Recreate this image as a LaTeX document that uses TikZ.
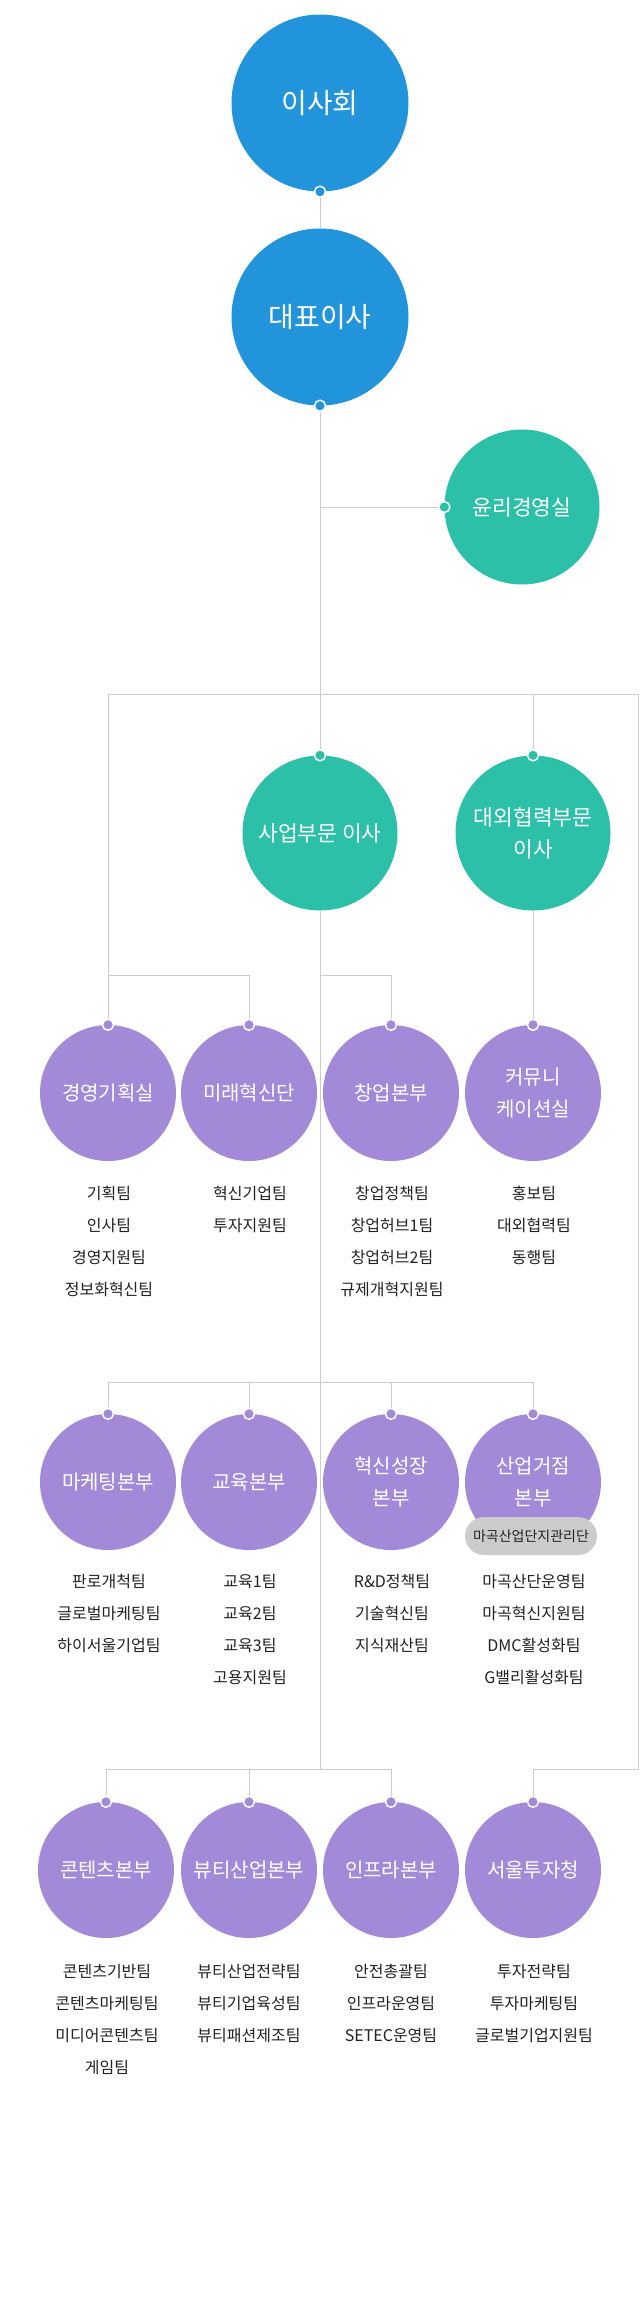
\documentclass[tikz,border=0pt]{standalone}
\usepackage{fontspec}
\setmainfont{Noto Sans CJK KR}
\definecolor{ceoblue}{HTML}{2194DB}
\definecolor{tealc}{HTML}{2DC0A8}
\definecolor{purplec}{HTML}{A38AD8}
\definecolor{linegray}{HTML}{CCCCCC}
\definecolor{teamtext}{HTML}{222222}
\definecolor{badgegray}{HTML}{CCCCCC}
\newcommand\teamcol[4]{%
  \foreach \t [count=\i from 0] in {#4} \node[team] (#1-\i) at (#2, #3+\i*32) {\t};}
\begin{document}
\begin{tikzpicture}[x=1pt,y=-1pt,
  lines/.style={draw=linegray, line width=1pt},
  bignode/.style={circle, inner sep=0pt, minimum size=177pt, fill=ceoblue, text=white, font=\fontsize{28}{34}\selectfont},
  midnode/.style={circle, inner sep=0pt, minimum size=155pt, fill=tealc, text=white, align=center, font=\fontsize{21.5}{32}\selectfont},
  subnode/.style={circle, inner sep=0pt, minimum size=136pt, fill=purplec, text=white, align=center, font=\fontsize{20}{32}\selectfont},
  team/.style={inner sep=0pt, text=teamtext, font=\fontsize{16}{20}\selectfont},
  badge/.style={rectangle, rounded corners=19pt, inner sep=0pt, minimum width=132pt, minimum height=38pt, fill=badgegray, text=teamtext, font=\fontsize{14}{16}\selectfont},
  dotb/.style={circle, inner sep=0pt, minimum size=11pt, draw=white, line width=1.5pt},
]
\useasboundingbox[fill=white] (0,0) rectangle (640,2300);

% main nodes
\node[bignode] (board) at (320,103) {이사회};
\node[bignode] (ceo) at (320,317) {대표이사};
\node[midnode] (ethics) at (522,507) {윤리경영실};
\node[midnode] (biz) at (320,833) {사업부문 이사};
\node[midnode] (ext) at (533,833) {대외협력부문\\이사};

\node[subnode] (r1a) at (108,1093) {경영기획실};
\node[subnode] (r1b) at (249,1093) {미래혁신단};
\node[subnode] (r1c) at (391,1093) {창업본부};
\node[subnode] (r1d) at (533,1093) {커뮤니\\케이션실};

\node[subnode] (r2a) at (108,1482) {마케팅본부};
\node[subnode] (r2b) at (249,1482) {교육본부};
\node[subnode] (r2c) at (391,1482) {혁신성장\\본부};
\node[subnode] (r2d) at (533,1482) {산업거점\\본부};
\node[badge] (mg) at (531,1536) {마곡산업단지관리단};

\node[subnode] (r3a) at (106,1870) {콘텐츠본부};
\node[subnode] (r3b) at (249,1870) {뷰티산업본부};
\node[subnode] (r3c) at (391,1870) {인프라본부};
\node[subnode] (r3d) at (533,1870) {서울투자청};

% junctions
\coordinate (j0) at (320,507);
\coordinate (j1) at (320,694);
\coordinate (jl) at (108,694);
\coordinate (jr) at (638.5,694);
\coordinate (je) at (533,694);
\coordinate (k1) at (108,975);
\coordinate (k2) at (249,975);
\coordinate (k3) at (320,975);
\coordinate (k4) at (391,975);
\coordinate (m1) at (108,1382);
\coordinate (m4) at (533,1382);
\coordinate (n1) at (106,1769);
\coordinate (n3) at (391,1769);
\coordinate (n0) at (320,1769);
\coordinate (nr) at (638.5,1769);
\coordinate (n4) at (533,1769);

% connectors
\draw[lines] (board.south) -- (ceo.north);
\draw[lines] (ceo.south) -- (j1);
\draw[lines] (j0) -- (ethics.west);
\draw[lines] (jl) -- (jr) -- (nr) -- (n4) -- (r3d.north);
\draw[lines] (j1) -- (biz.north);
\draw[lines] (je) -- (ext.north);
\draw[lines] (jl) -- (r1a.north);
\draw[lines] (k1) -- (k2) -- (r1b.north);
\draw[lines] (biz.south) -- (n0);
\draw[lines] (k3) -- (k4) -- (r1c.north);
\draw[lines] (ext.south) -- (r1d.north);
\draw[lines] (m1) -- (m4);
\foreach \n in {r2a,r2b,r2c,r2d} \draw[lines] (\n.north |- m1) -- (\n.north);
\draw[lines] (n1) -- (n3);
\foreach \n in {r3a,r3b,r3c} \draw[lines] (\n.north |- n1) -- (\n.north);

% dots
\foreach \n/\a/\c in {board/south/ceoblue, ceo/south/ceoblue, ethics/west/tealc, biz/north/tealc, ext/north/tealc,
  r1a/north/purplec, r1b/north/purplec, r1c/north/purplec, r1d/north/purplec,
  r2a/north/purplec, r2b/north/purplec, r2c/north/purplec, r2d/north/purplec,
  r3a/north/purplec, r3b/north/purplec, r3c/north/purplec, r3d/north/purplec}
  \node[dotb, fill=\c] (dot-\n) at (\n.\a) {};

% team lists
\teamcol{t1a}{109}{1193}{기획팀,인사팀,경영지원팀,정보화혁신팀}
\teamcol{t1b}{250}{1193}{혁신기업팀,투자지원팀}
\teamcol{t1c}{392}{1193}{창업정책팀,창업허브1팀,창업허브2팀,규제개혁지원팀}
\teamcol{t1d}{534}{1193}{홍보팀,대외협력팀,동행팀}
\teamcol{t2a}{109}{1581}{판로개척팀,글로벌마케팅팀,하이서울기업팀}
\teamcol{t2b}{250}{1581}{교육1팀,교육2팀,교육3팀,고용지원팀}
\teamcol{t2c}{392}{1581}{R\&D정책팀,기술혁신팀,지식재산팀}
\teamcol{t2d}{534}{1581}{마곡산단운영팀,마곡혁신지원팀,DMC활성화팀,G밸리활성화팀}
\teamcol{t3a}{107}{1971}{콘텐츠기반팀,콘텐츠마케팅팀,미디어콘텐츠팀,게임팀}
\teamcol{t3b}{249}{1971}{뷰티산업전략팀,뷰티기업육성팀,뷰티패션제조팀}
\teamcol{t3c}{391}{1971}{안전총괄팀,인프라운영팀,SETEC운영팀}
\teamcol{t3d}{534}{1971}{투자전략팀,투자마케팅팀,글로벌기업지원팀}
\end{tikzpicture}
\end{document}
